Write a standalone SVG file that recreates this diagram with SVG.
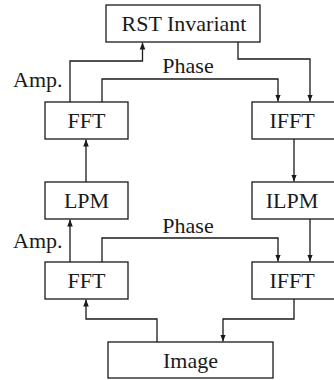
<svg xmlns="http://www.w3.org/2000/svg" width="334" height="380" viewBox="0 0 334 380">
<style>
.box{fill:#fff;stroke:#1a1a1a;stroke-width:1.3}
.lbl{font-family:"Liberation Serif","Times New Roman",serif;font-size:22px;fill:#1a1a1a}
.c{text-anchor:middle}
.con{fill:none;stroke:#1a1a1a;stroke-width:1.3}
</style>
<defs>
<marker id="ah" viewBox="0 0 10 10" refX="10" refY="5" markerWidth="7" markerHeight="7" markerUnits="userSpaceOnUse" orient="auto">
<path d="M0,1 L10,5 L0,9 Z" fill="#1a1a1a"/>
</marker>
</defs>
<rect width="334" height="380" fill="#fff"/>
<g id="connectors">
<path class="con" d="M70,102 V61 H142.5 V42.5" marker-end="url(#ah)"/>
<path class="con" d="M102,102 V79 H278 V101.5" marker-end="url(#ah)"/>
<path class="con" d="M238,42 V59 H310 V101.5" marker-end="url(#ah)"/>
<path class="con" d="M86,182 V139.5" marker-end="url(#ah)"/>
<path class="con" d="M294,139 V181.5" marker-end="url(#ah)"/>
<path class="con" d="M70,262 V219.5" marker-end="url(#ah)"/>
<path class="con" d="M102,262 V238 H278 V261.5" marker-end="url(#ah)"/>
<path class="con" d="M310,219 V261.5" marker-end="url(#ah)"/>
<path class="con" d="M157,342 V319 H86 V299.5" marker-end="url(#ah)"/>
<path class="con" d="M294,299 V319 H223 V341.5" marker-end="url(#ah)"/>
</g>
<g id="labels">
<text class="lbl" x="13" y="87">Amp.</text>
<text class="lbl c" x="188" y="73">Phase</text>
<text class="lbl" x="13" y="248">Amp.</text>
<text class="lbl c" x="188" y="233">Phase</text>
</g>
<g id="rst"><rect class="box" x="106" y="5" width="154" height="37"/><text class="lbl c" x="184" y="31">RST Invariant</text></g>
<g id="fft1"><rect class="box" x="45" y="102" width="83" height="37"/><text class="lbl c" x="86.5" y="128">FFT</text></g>
<g id="ifft1"><rect class="box" x="252" y="102" width="84" height="37"/><text class="lbl c" x="292" y="128">IFFT</text></g>
<g id="lpm"><rect class="box" x="45" y="182" width="83" height="37"/><text class="lbl c" x="86.5" y="208">LPM</text></g>
<g id="ilpm"><rect class="box" x="252" y="182" width="84" height="37"/><text class="lbl c" x="292" y="208">ILPM</text></g>
<g id="fft2"><rect class="box" x="45" y="262" width="83" height="37"/><text class="lbl c" x="86.5" y="288">FFT</text></g>
<g id="ifft2"><rect class="box" x="252" y="262" width="84" height="37"/><text class="lbl c" x="292" y="288">IFFT</text></g>
<g id="image"><rect class="box" x="108" y="342" width="165" height="36"/><text class="lbl c" x="190.5" y="368">Image</text></g>
</svg>
